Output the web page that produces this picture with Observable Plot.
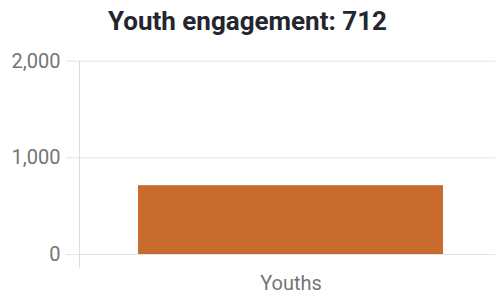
<!DOCTYPE html>
<html>
<head>
<meta charset="utf-8">
<script src="https://cdn.jsdelivr.net/npm/d3@7"></script>
<script src="https://cdn.jsdelivr.net/npm/@observablehq/plot@0.6"></script>
<style>
  html, body { margin: 0; padding: 0; background: #fff; }
  #title { height: 45px; line-height: 43px; text-align: center; font-family: Roboto, sans-serif; font-weight: 700; font-size: 26px; color: #23262e; }
  #chart svg { display: block; }
</style>
</head>
<body>
<div id="title">Youth engagement: 712</div>
<div id="chart"></div>
<script>
const categories = ["Youths"];
const values = [712];
const yTicks = [0, 1000, 2000];

const data = categories.map((c, i) => ({category: c, value: values[i]}));

const plot = Plot.plot({
  width: 495,
  height: 250,
  marginLeft: 79,
  marginRight: 0,
  marginTop: 15,
  marginBottom: 41,
  style: {fontFamily: "Roboto, sans-serif", fontSize: "20px", color: "#757575", background: "#fff"},
  x: {domain: categories, range: [79, 501], padding: 0.16, label: null},
  y: {domain: [0, 2000], range: [209, 15.7], label: null},
  marks: [
    Plot.gridY(yTicks, {stroke: "#e3e3e3", strokeOpacity: 1}),
    Plot.axisY(yTicks, {tickSize: 13, tickPadding: 6, stroke: "#e3e3e3", tickFormat: d3.format(","), fill: "#757575", fontSize: 20}),
    Plot.barY(data, {x: "category", y: "value", fill: "#ca6b2e"}),
    Plot.axisX({tickSize: 0, tickPadding: 21, fill: "#757575", fontSize: 20})
  ]
});
document.getElementById("chart").appendChild(plot);

// vertical axis line
const y = plot.scale("y");
d3.select(plot).append("line")
  .attr("x1", 79.5).attr("x2", 79.5)
  .attr("y1", y.apply(2000)).attr("y2", y.apply(0) + 14)
  .attr("stroke", "#dcdcdc");
</script>
</body>
</html>
